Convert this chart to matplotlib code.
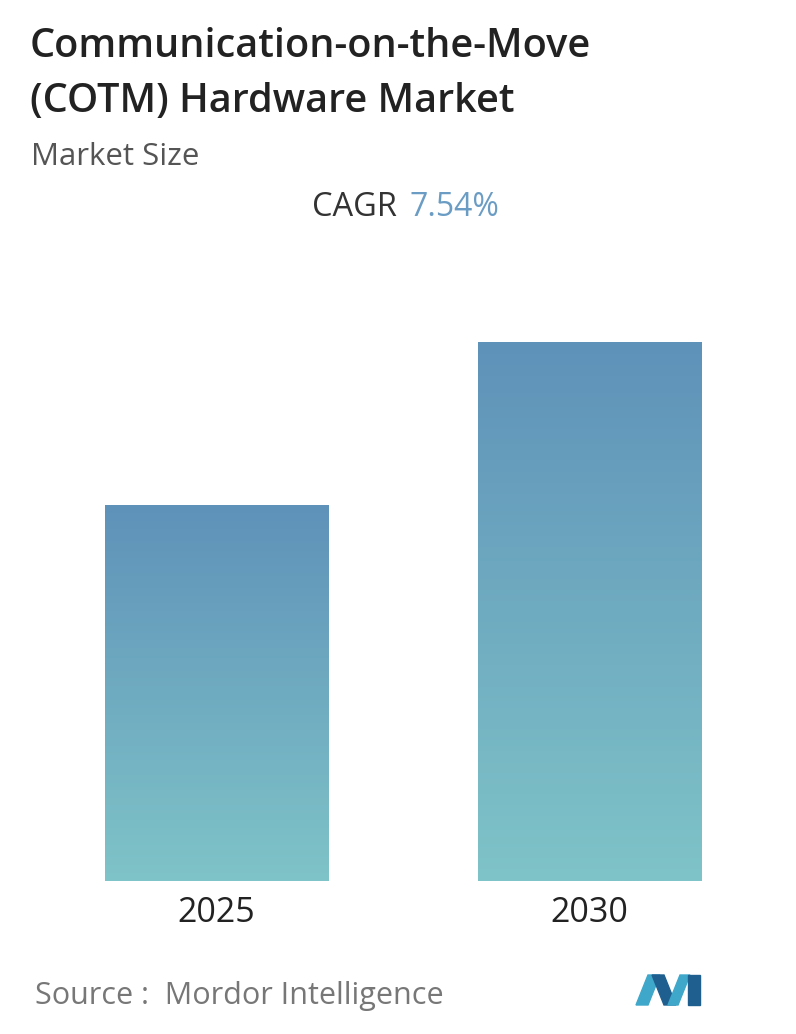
import matplotlib
matplotlib.use("Agg")
import matplotlib.pyplot as plt
import numpy as np
from matplotlib.colors import LinearSegmentedColormap
from matplotlib.patches import Polygon

years = ["2025", "2030"]
values = [3.75, 5.39]

fig = plt.figure(figsize=(7.96, 10.34), dpi=100)
W, H = 796, 1034
def fx(x): return x / W
def fy(y): return 1 - y / H

fig.text(fx(30), fy(47), "Communication-on-the-Move", fontsize=28.5, fontweight="semibold", color="#222222", va="center", family="Open Sans")
fig.text(fx(30), fy(102), "(COTM) Hardware Market", fontsize=28.5, fontweight="semibold", color="#222222", va="center", family="Open Sans")
fig.text(fx(31), fy(157), "Market Size", fontsize=22.5, color="#555555", va="center", family="Open Sans")
fig.text(fx(397), fy(208), "CAGR", fontsize=23.5, color="#333333", va="center", ha="right", family="Open Sans")
fig.text(fx(410), fy(208), "7.54%", fontsize=23, color="#6a9cc4", va="center", ha="left", family="Open Sans")
fig.text(fx(35), fy(996), "Source :  Mordor Intelligence", fontsize=22, color="#777777", va="center", family="Open Sans")

ax = fig.add_axes([0, fy(881), 1, fy(300) - fy(881)])
cmap = LinearSegmentedColormap.from_list("g", ["#7fc4c8", "#5f92b9"])
grad = np.linspace(0, 1, 256).reshape(-1, 1)
bw = 0.598
for i, v in enumerate(values):
    ax.imshow(grad, extent=[i - bw/2, i + bw/2, 0, v], origin="lower", cmap=cmap, aspect="auto", zorder=2)
    fig.text(fx(216.5 + 373 * i), fy(913), years[i], fontsize=24.5, color="#222222", ha="center", va="center", family="Open Sans")
ax.set_xlim(-0.580, 1.554)
ax.set_ylim(0, 5.39 * 581 / 539)
ax.axis("off")

lax = fig.add_axes([0, 0, 1, 1], facecolor="none")
lax.set_xlim(0, W); lax.set_ylim(H, 0); lax.axis("off")
lax.add_patch(Polygon([(636, 1005), (648, 975), (660, 975), (648, 1005)], color="#3fa7c9"))
lax.add_patch(Polygon([(652, 975), (664, 975), (676, 1005), (664, 1005)], color="#1f5f8f"))
lax.add_patch(Polygon([(668, 1005), (680, 975), (690, 975), (678, 1005)], color="#3fa7c9"))
lax.add_patch(Polygon([(688, 975), (700, 975), (700, 1005), (688, 1005)], color="#1f5f8f"))

fig.savefig("out.png", dpi=100)
